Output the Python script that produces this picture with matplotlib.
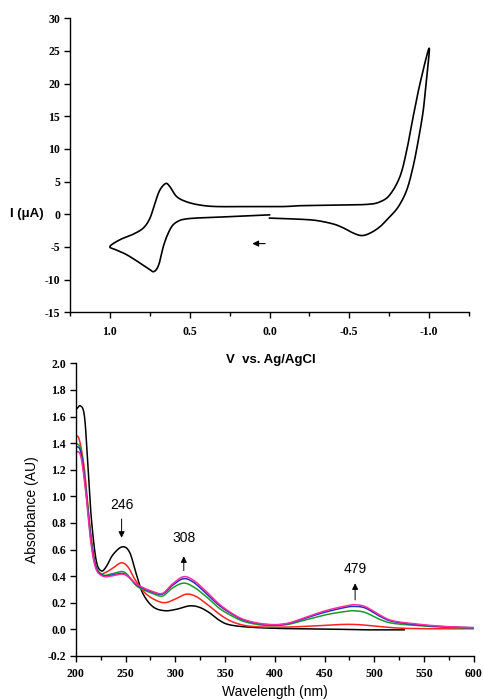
import matplotlib
matplotlib.use("Agg")
import matplotlib.pyplot as plt
from matplotlib.ticker import MultipleLocator
import numpy as np

plt.rcParams["axes.unicode_minus"] = False

# ---------------- CV data (potential V, current uA) ----------------
cv_potential = [0.0, 0.227, 0.436, 0.53, 0.575, 0.61, 0.64, 0.666, 0.687, 0.707, 0.728, 0.749, 0.81, 0.895, 0.958, 1.0,
                0.937, 0.854, 0.79, 0.749, 0.718, 0.687, 0.65, 0.624, 0.582, 0.52, 0.436, 0.33, 0.122, -0.087,
                -0.19, -0.40, -0.61, -0.693, -0.755, -0.818, -0.86, -0.90, -0.943, -1.0,
                -0.985, -0.964, -0.933, -0.90, -0.86, -0.808, -0.755, -0.693, -0.63, -0.578, -0.526, -0.463,
                -0.40, -0.296, -0.19, 0.0]
cv_current = [-0.1, -0.36, -0.56, -0.75, -1.1, -1.8, -3.2, -5.0, -7.2, -8.4, -8.8, -8.5, -7.5, -6.2, -5.5, -4.95,
              -3.9, -3.06, -2.1, -0.6, 1.7, 3.7, 4.7, 4.2, 2.7, 1.9, 1.4, 1.17, 1.17, 1.17,
              1.3, 1.38, 1.5, 1.9, 3.0, 5.8, 9.8, 14.9, 20.0, 25.4,
              21.0, 16.0, 11.4, 7.3, 3.7, 1.17, -0.36, -1.9, -2.9, -3.27, -2.9, -2.1,
              -1.5, -0.97, -0.77, -0.6]
cv_xticks = [1.0, 0.5, 0.0, -0.5, -1.0]
cv_yticks = [-15, -10, -5, 0, 5, 10, 15, 20, 25, 30]

# ---------------- UV-vis data ----------------
wl_black = [200, 204.7, 208.7, 212, 215.4, 220.4, 225.5, 230.5, 237.2, 246.6, 254, 260.6, 267.3, 277.4, 289,
            300.8, 314, 324, 334, 344.4, 354.4, 374.5, 408, 458, 492, 530]
abs_black = [1.65, 1.68, 1.60, 1.25, 0.85, 0.52, 0.44, 0.47, 0.56, 0.62, 0.58, 0.42, 0.27, 0.17, 0.14,
             0.15, 0.176, 0.166, 0.126, 0.067, 0.034, 0.016, 0.006, 0.001, -0.004, -0.004]

wl_red = [200, 203.7, 208.7, 213, 218.8, 223.8, 230.5, 237.2, 245.6, 252.3, 259, 267.3, 277.4, 289, 300.8,
          310.9, 321, 334, 347.7, 361, 378, 408, 441.5, 465, 481.7, 498.5, 525, 558.8, 600]
abs_red = [1.46, 1.42, 1.20, 0.85, 0.52, 0.42, 0.43, 0.46, 0.50, 0.47, 0.38, 0.29, 0.23, 0.20, 0.23,
           0.264, 0.246, 0.176, 0.096, 0.046, 0.021, 0.016, 0.026, 0.036, 0.036, 0.026, 0.009, 0.004, 0.004]

wl_common = [200, 205, 210, 215, 220, 227, 235, 246, 252, 260, 267, 277, 287, 297, 308, 318, 331, 344, 358,
             371, 391, 411, 431, 451, 471, 480, 491, 505, 518, 542, 569, 600]
abs_green = [1.40, 1.35, 1.07, 0.70, 0.48, 0.41, 0.415, 0.434, 0.41, 0.334, 0.30, 0.27, 0.25, 0.31, 0.347,
             0.32, 0.246, 0.159, 0.096, 0.054, 0.029, 0.034, 0.071, 0.109, 0.134, 0.139, 0.126, 0.076, 0.046,
             0.029, 0.016, 0.009]
abs_blue = [1.38, 1.33, 1.05, 0.68, 0.47, 0.405, 0.405, 0.42, 0.40, 0.34, 0.31, 0.28, 0.265, 0.33, 0.38,
            0.355, 0.27, 0.18, 0.11, 0.064, 0.036, 0.04, 0.085, 0.13, 0.165, 0.172, 0.16, 0.10, 0.06,
            0.035, 0.02, 0.012]
abs_magenta = [1.34, 1.30, 1.03, 0.66, 0.46, 0.40, 0.40, 0.415, 0.40, 0.345, 0.315, 0.285, 0.27, 0.34, 0.395,
               0.37, 0.285, 0.19, 0.115, 0.068, 0.038, 0.042, 0.09, 0.14, 0.175, 0.185, 0.17, 0.11, 0.065,
               0.04, 0.022, 0.012]

peak_labels = ["246", "308", "479"]
peak_wl = [246, 308.5, 480.7]
arrow_tail = [0.85, 0.42, 0.20]
arrow_head = [0.667, 0.57, 0.367]
label_y = [0.935, 0.69, 0.45]


def smooth(x, y, n=400):
    x = np.asarray(x, float)
    y = np.asarray(y, float)
    tt = np.linspace(0, len(x) - 1, n)

    def cr(v):
        v = np.asarray(v, float)
        p = np.concatenate([[2 * v[0] - v[1]], v, [2 * v[-1] - v[-2]]])
        out = np.empty_like(tt)
        for k, s in enumerate(tt):
            i = min(int(np.floor(s)), len(v) - 2)
            u = s - i
            p0, p1, p2, p3 = p[i], p[i + 1], p[i + 2], p[i + 3]
            out[k] = 0.5 * ((2 * p1) + (-p0 + p2) * u + (2 * p0 - 5 * p1 + 4 * p2 - p3) * u ** 2
                            + (-p0 + 3 * p1 - 3 * p2 + p3) * u ** 3)
        return out
    return cr(x), cr(y)


TICK_FS = 8.5

fig = plt.figure(figsize=(4.83, 7.0), dpi=100)

# ---------------- Top: CV ----------------
ax1 = fig.add_axes([0.145, 0.554, 0.826, 0.420])
xs, ys = smooth(cv_potential, cv_current, 800)
ax1.plot(xs, ys, color="black", lw=1.2)
ax1.annotate("", xy=(0.125, -4.5), xytext=(0.01, -4.5),
             arrowprops=dict(arrowstyle="-|>", color="black", lw=0.8, mutation_scale=9))
ax1.set_xlim(1.25, -1.25)
ax1.set_ylim(-15, 30)
ax1.set_xticks(cv_xticks)
ax1.set_xticklabels([f"{v:.1f}" for v in cv_xticks])
ax1.xaxis.set_minor_locator(MultipleLocator(0.25))
ax1.set_yticks(cv_yticks)
ax1.set_yticklabels([str(v) for v in cv_yticks])
for s in ["top", "right"]:
    ax1.spines[s].set_visible(False)
for s in ["left", "bottom"]:
    ax1.spines[s].set_linewidth(1.0)
ax1.tick_params(which="major", direction="out", length=4, width=1.0, pad=3)
ax1.tick_params(which="minor", direction="out", length=3, width=1.0)
ax1.tick_params(axis="x", pad=6)
for lab in ax1.get_xticklabels() + ax1.get_yticklabels():
    lab.set_family("Liberation Serif")
    lab.set_weight("bold")
    lab.set_fontsize(TICK_FS)
fig.text(10 / 483, 1 - 214 / 700, "I (\u03bcA)", family="Liberation Sans", weight="bold",
         fontsize=9.5, ha="left", va="center")
fig.text(271 / 483, 1 - 360 / 700, "V  vs. Ag/AgCl", family="Liberation Sans", weight="bold",
         fontsize=9.5, ha="center", va="center")

# ---------------- Bottom: UV-vis ----------------
ax2 = fig.add_axes([0.157, 0.063, 0.824, 0.418])
for wl, ab, col in [(wl_black, abs_black, "black"), (wl_red, abs_red, "#ff2020"),
                    (wl_common, abs_green, "#1a9a2a"), (wl_common, abs_blue, "#2030c0"),
                    (wl_common, abs_magenta, "#ff2aa0")]:
    sx, sy = smooth(wl, ab, 600)
    ax2.plot(sx, sy, color=col, lw=1.1)

for lab, w, t, h, ly in zip(peak_labels, peak_wl, arrow_tail, arrow_head, label_y):
    ax2.annotate("", xy=(w, h), xytext=(w, t),
                 arrowprops=dict(arrowstyle="-|>", color="black", lw=0.7, mutation_scale=9))
    ax2.text(w, ly, lab, family="Liberation Sans", fontsize=10, ha="center", va="center")

ax2.set_xlim(200, 600)
ax2.set_ylim(-0.2, 2.0)
ax2.xaxis.set_major_locator(MultipleLocator(50))
ax2.xaxis.set_minor_locator(MultipleLocator(25))
yt = np.round(np.arange(-0.2, 2.01, 0.2), 1)
ax2.set_yticks(yt)
ax2.set_yticklabels([f"{v:.1f}" for v in yt])
for s in ["top", "right"]:
    ax2.spines[s].set_visible(False)
for s in ["left", "bottom"]:
    ax2.spines[s].set_linewidth(1.0)
ax2.tick_params(which="major", direction="out", length=4, width=1.0, pad=3)
ax2.tick_params(which="minor", direction="out", length=3, width=1.0)
ax2.tick_params(axis="x", pad=5)
for lab in ax2.get_xticklabels() + ax2.get_yticklabels():
    lab.set_family("Liberation Serif")
    lab.set_weight("bold")
    lab.set_fontsize(TICK_FS)
ax2.set_xlabel("Wavelength (nm)", family="Liberation Sans", fontsize=10, labelpad=3)
ax2.set_ylabel("Absorbance (AU)", family="Liberation Sans", fontsize=10, labelpad=6)

fig.savefig("out.png", dpi=100)
